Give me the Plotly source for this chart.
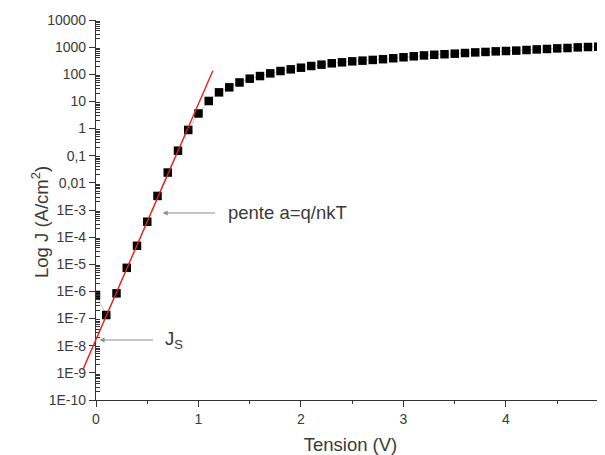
import numpy as np
import plotly.graph_objects as go

"""
Caracteristique J(V) d'une diode en echelle log + ajustement exponentiel
"""

tension = [0.0, 0.1, 0.2, 0.3, 0.4, 0.5, 0.6, 0.7, 0.8, 0.9,
           1.0, 1.1, 1.2, 1.3, 1.4, 1.5, 1.6, 1.7, 1.8, 1.9,
           2.0, 2.1, 2.2, 2.3, 2.4, 2.5, 2.6, 2.7, 2.8, 2.9,
           3.0, 3.1, 3.2, 3.3, 3.4, 3.5, 3.6, 3.7, 3.8, 3.9,
           4.0, 4.1, 4.2, 4.3, 4.4, 4.5, 4.6, 4.7, 4.8, 4.9]
densite = [7.4e-7, 1.35e-7, 8.5e-7, 7.4e-6, 4.8e-5, 3.7e-4, 3.3e-3, 2.4e-2, 0.153, 0.89,
           3.6, 10.4, 21.6, 33, 50, 69, 86, 108, 132, 152,
           175, 202, 226, 254, 276, 300, 318, 338, 360, 390,
           423, 460, 495, 523, 548, 575, 608, 640, 665, 700,
           721, 745, 785, 825, 855, 900, 930, 980, 1010, 1037]

# Ajustement de la partie exponentielle : J = Js * exp(a V)
js = 1.7e-8          # A/cm2
pente_a = 20.0       # 1/V  (a = q/nkT)
fit_tension = [-0.13, 1.14]
fit_densite = [js * np.exp(pente_a * v) for v in fit_tension]

# Graduations
y_tickvals = [1e4, 1e3, 1e2, 1e1, 1, 1e-1, 1e-2, 1e-3, 1e-4, 1e-5,
              1e-6, 1e-7, 1e-8, 1e-9, 1e-10]
y_ticktext = ["10000", "1000", "100", "10", "1", "0,1", "0,01", "1E-3", "1E-4", "1E-5",
              "1E-6", "1E-7", "1E-8", "1E-9", "1E-10"]
y_minor = [m * d for d in y_tickvals[1:] for m in range(2, 10)]
x_tickvals = [0, 1, 2, 3, 4, 5]

# Mise en page (pixels ; la page ajoute une marge de 8 px en haut et a gauche)
W, H = 597, 447
ml, mr, mt, mb = 72, 0, 12, 55
plot_w = W - ml - mr
plot_h = H - mt - mb
x_left = 88                      # position de l'axe des ordonnees
d0 = (x_left - ml) / plot_w
x_max = 4.966
v_per_px = x_max / ((1 - d0) * plot_w)
x2_min = -(x_left - ml) * v_per_px   # sous-graphe elargi pour la droite d'ajustement

axis_col = "#333333"
txt_col = "#3a3a3a"
font_fam = "Liberation Sans, Arial, sans-serif"

fig = go.Figure()
fig.add_trace(go.Scatter(x=tension, y=densite, mode="lines+markers",
                         line=dict(color="#c8c8c8", width=1),
                         marker=dict(symbol="square", size=8.5, color="black"),
                         xaxis="x", yaxis="y", showlegend=False))
fig.add_trace(go.Scatter(x=fit_tension, y=fit_densite, mode="lines",
                         line=dict(color="#e8211d", width=1.4),
                         xaxis="x2", yaxis="y2", showlegend=False))

fig.update_layout(
    width=W, height=H,
    margin=dict(l=ml, r=mr, t=mt, b=mb),
    paper_bgcolor="white", plot_bgcolor="rgba(0,0,0,0)",
    font=dict(family=font_fam, color=txt_col, size=14),
    xaxis=dict(domain=[d0, 1], range=[0, x_max], anchor="y", automargin=False,
               showline=True, linecolor=axis_col, linewidth=1.2,
               ticks="outside", ticklen=6, tickcolor=axis_col, tickwidth=1.2,
               tickvals=x_tickvals, tickfont=dict(size=14),
               minor=dict(dtick=0.5, ticks="outside", ticklen=3, tickcolor=axis_col),
               showgrid=False, zeroline=False,
               title=dict(text="Tension (V)", font=dict(size=18.5), standoff=15)),
    yaxis=dict(domain=[0, 1], type="log", range=[-10, 4], anchor="x", automargin=False,
               showline=True, linecolor=axis_col, linewidth=1.2, mirror=True,
               ticks="outside", ticklen=6, tickcolor=axis_col, tickwidth=1.2,
               tickvals=y_tickvals, ticktext=y_ticktext, tickfont=dict(size=14),
               minor=dict(tickmode="array", tickvals=y_minor, ticks="inside",
                          ticklen=4, tickcolor=axis_col),
               showgrid=False, zeroline=False),
    xaxis2=dict(domain=[0, 1], range=[x2_min, x_max], anchor="y2", visible=False),
    yaxis2=dict(domain=[0, 1], type="log", range=[-10, 4], anchor="x2", visible=False),
    xaxis3=dict(overlaying="x", side="top", matches="x", anchor="y", automargin=False,
                showline=True, linecolor=axis_col, linewidth=1.2,
                ticks="inside", ticklen=5, tickcolor=axis_col, dtick=0.5,
                showticklabels=False, showgrid=False, zeroline=False),
)

# Titre de l'axe des ordonnees (legerement sous le centre, comme l'original)
fig.add_annotation(x=(18 - ml) / plot_w, y=1 - (214 - mt) / plot_h,
                   xref="paper", yref="paper", textangle=-90,
                   text="Log J (A/cm<sup>2</sup>)", showarrow=False,
                   font=dict(size=18.5, color=txt_col))

# Fleches et textes
fig.add_annotation(x=0.65, y=-3.11, xref="x", yref="y", ax=54, ay=0,
                   text="", showarrow=True, arrowhead=2, arrowsize=1,
                   arrowwidth=1, arrowcolor="#8c8c8c")
fig.add_annotation(x=1.27, y=-3.11, xref="x", yref="y", xanchor="left",
                   text="pente a=q/nkT", showarrow=False,
                   font=dict(size=18.5, color=txt_col))
fig.add_annotation(x=0.035, y=-7.79, xref="x", yref="y", ax=55, ay=0,
                   text="", showarrow=True, arrowhead=2, arrowsize=1,
                   arrowwidth=1, arrowcolor="#8c8c8c")
fig.add_annotation(x=0.65, y=-7.79, xref="x", yref="y", xanchor="left",
                   text="J<sub>S</sub>", showarrow=False,
                   font=dict(size=18.5, color=txt_col))

fig.write_html("out.html")
